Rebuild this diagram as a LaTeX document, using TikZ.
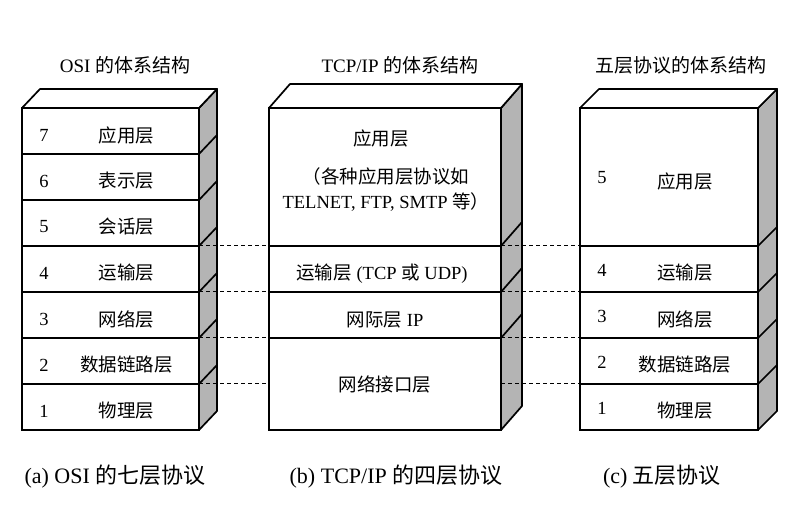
\documentclass[tikz,border=0pt]{standalone}
\usepackage{fontspec}
\setmainfont{Liberation Serif}
\newfontfamily\zhfont{Noto Sans CJK SC}
\newcommand{\zh}[1]{{\zhfont #1}}
\usepackage{tikz}
\usetikzlibrary{positioning,calc}
\definecolor{sidegray}{RGB}{180,180,180}

\begin{document}
\begin{tikzpicture}[x=1pt,y=-1pt,
    layer/.style={draw,line width=1.7pt,fill=white,inner sep=0pt,outer sep=0pt,minimum height=46pt},
    sidewall/.style={draw,line width=1.7pt,fill=sidegray,line join=round},
    roof/.style={draw,line width=1.7pt,fill=white,line join=round},
    rim/.style={line width=1.7pt},
    num/.style={font=\fontsize{18.5}{22}\selectfont,inner sep=0pt},
    txt/.style={font=\fontsize{18.5}{25}\selectfont,align=center,inner sep=0pt},
    headtxt/.style={font=\fontsize{19}{23}\selectfont,inner sep=0pt},
    captxt/.style={font=\fontsize{22}{26}\selectfont,inner sep=0pt},
    link/.style={line width=1pt,dash pattern=on 4pt off 3pt}
  ]
  \useasboundingbox (0,0) rectangle (804,510);
  \fill[white] (0,0) rectangle (804,510);

  % OSI
  \node[layer,minimum width=177pt,anchor=north west] (osi7) at (22,108) {};
  \foreach \n [remember=\n as \up (initially 7)] in {6,...,1}
    \node[layer,minimum width=177pt,below=0pt of osi\up] (osi\n) {};
  \foreach \n/\name in {7/应用层,6/表示层,5/会话层,4/运输层,3/网络层,2/数据链路层,1/物理层} {
    \node[num] at ($(osi\n.west)+(22,4)$) {\n};
    \node[txt] at ($(osi\n.center)+(16,4)$) {\zh{\name}};
  }
  \draw[sidewall] (osi7.north east) -- ++(18,-19) -- ($(osi1.south east)+(18,-19)$) -- (osi1.south east) -- cycle;
  \draw[roof] (osi7.north west) -- ++(18,-19) -- ($(osi7.north east)+(18,-19)$) -- (osi7.north east) -- cycle;
  \foreach \n in {6,...,1} \draw[rim] (osi\n.north east) -- ++(18,-19);

  % TCP/IP
  \node[layer,minimum width=232pt,minimum height=138pt,anchor=north west] (tcpapp) at (269,108) {};
  \node[layer,minimum width=232pt,below=0pt of tcpapp] (tcptrans) {};
  \node[layer,minimum width=232pt,below=0pt of tcptrans] (tcpip) {};
  \node[layer,minimum width=232pt,minimum height=92pt,below=0pt of tcpip] (tcplink) {};
  \node[txt] at ($(tcpapp.north)+(-4,30)$) {\zh{应用层}};
  \node[txt] at ($(tcpapp.center)+(1,13)$) {\zh{（各种应用层协议如}\\TELNET, FTP, SMTP \zh{等）}};
  \node[txt] at ($(tcptrans.center)+(-3,5)$) {\zh{运输层} (TCP \zh{或} UDP)};
  \node[txt] at ($(tcpip.center)+(0,5)$) {\zh{网际层} IP};
  \node[txt] at (tcplink.center) {\zh{网络接口层}};
  \draw[sidewall] (tcpapp.north east) -- ++(21,-24) -- ($(tcplink.south east)+(21,-24)$) -- (tcplink.south east) -- cycle;
  \draw[roof] (tcpapp.north west) -- ++(21,-24) -- ($(tcpapp.north east)+(21,-24)$) -- (tcpapp.north east) -- cycle;
  \foreach \n in {tcptrans,tcpip,tcplink} \draw[rim] (\n.north east) -- ++(21,-24);

  % five layers
  \node[layer,minimum width=178pt,minimum height=138pt,anchor=north west] (five5) at (580,108) {};
  \foreach \n [remember=\n as \up (initially 5)] in {4,...,1}
    \node[layer,minimum width=178pt,below=0pt of five\up] (five\n) {};
  \foreach \n/\name in {5/应用层,4/运输层,3/网络层,2/数据链路层,1/物理层} {
    \node[num] at ($(five\n.west)+(22,1)$) {\n};
    \node[txt] at ($(five\n.center)+(16,4)$) {\zh{\name}};
  }
  \draw[sidewall] (five5.north east) -- ++(19,-19) -- ($(five1.south east)+(19,-19)$) -- (five1.south east) -- cycle;
  \draw[roof] (five5.north west) -- ++(19,-19) -- ($(five5.north east)+(19,-19)$) -- (five5.north east) -- cycle;
  \foreach \n in {4,...,1} \draw[rim] (five\n.north east) -- ++(19,-19);

  % dashed links between the stacks
  \draw[link] (osi5.south east) -- (tcpapp.south west);
  \draw[link] (osi4.south east) -- (tcptrans.south west);
  \draw[link] (osi3.south east) -- (tcpip.south west);
  \draw[link] (osi2.south east) -- (tcplink.west);
  \draw[link] (tcpapp.south east) -- (five5.south west);
  \draw[link] (tcptrans.south east) -- (five4.south west);
  \draw[link] (tcpip.south east) -- (five3.south west);
  \draw[link] (tcplink.east) -- (five2.south west);

  % titles and captions
  \node[headtxt] (osihead) at (125,65) {OSI \zh{的体系结构}};
  \node[headtxt] (tcphead) at (400,65) {TCP/IP \zh{的体系结构}};
  \node[headtxt] (fivehead) at (681,65) {\zh{五层协议的体系结构}};
  \node[captxt] (osicap) at (115,477) {(a) OSI \zh{的七层协议}};
  \node[captxt] (tcpcap) at (396,477) {(b) TCP/IP \zh{的四层协议}};
  \node[captxt] (fivecap) at (662,477) {(c) \zh{五层协议}};
\end{tikzpicture}
\end{document}
